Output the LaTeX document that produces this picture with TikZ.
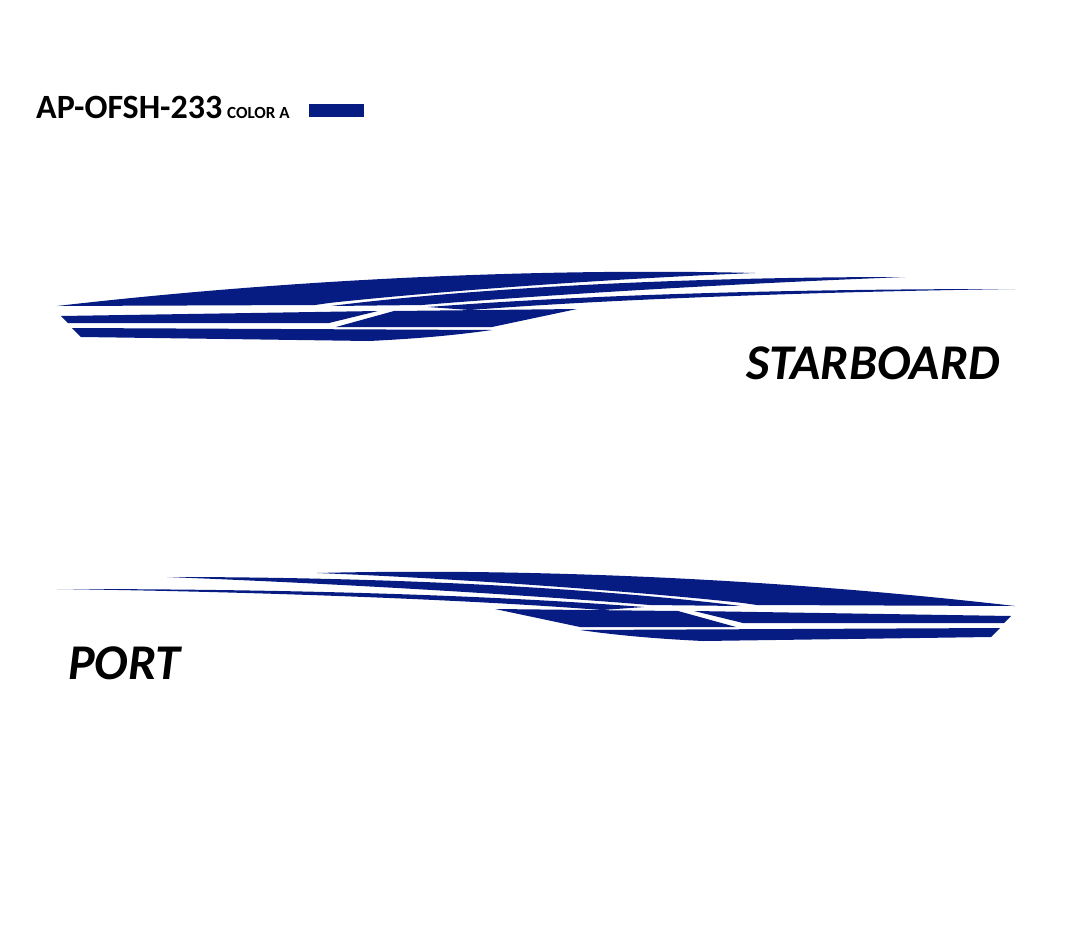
\documentclass[tikz,border=0pt]{standalone}
\usepackage{fontspec}
\setmainfont{Carlito}
\definecolor{stripe}{HTML}{061C82}
\begin{document}
\begin{tikzpicture}[x=1pt,y=-1pt]
\useasboundingbox (0,0) rectangle (1065,942);
\newcommand{\graphic}{%
 % top blade
 \fill[stripe] (57,306) .. controls (300,278) and (550,268) .. (755,273)
   .. controls (600,279) and (420,293) .. (329,303) -- (315,305) -- cycle;
 % blade 2
 \fill[stripe] (331,306) .. controls (450,291) and (650,277) .. (905,277)
   .. controls (700,285) and (520,297) .. (422,305) -- cycle;
 % blade 3
 \fill[stripe] (428,307) .. controls (600,294) and (800,289) .. (1015,289)
   .. controls (800,292) and (600,300) .. (470,310) -- cycle;
 % row 2
 \fill[stripe] (61,316) -- (378,311) -- (329,323) -- (68,323) -- cycle;
 \fill[stripe] (394,311) -- (577,309) -- (492,327) -- (336,327) -- cycle;
 % row 3
 \fill[stripe] (72,328) -- (492,330) .. controls (450,336) and (410,339) .. (369,341) -- (81,337) -- cycle;
}
\graphic
\begin{scope}[xshift=1072pt,yshift=-300pt,xscale=-1]
\graphic
\end{scope}
\node[anchor=base west,inner sep=0,font=\bfseries\fontsize{34}{34}\selectfont] (code) at (36,118) {AP-OFSH-233};
\node[anchor=base west,inner sep=0,font=\bfseries\fontsize{17}{17}\selectfont] (col) at (227,118) {COLOR A};
\fill[stripe] (309,104) rectangle (364,117);
\node[anchor=base east,inner sep=0,font=\bfseries\itshape\fontsize{50}{50}\selectfont] (sb) at (1000,379) {STARBOARD};
\node[anchor=base west,inner sep=0,font=\bfseries\itshape\fontsize{50}{50}\selectfont] (pt) at (68,679) {PORT};
\end{tikzpicture}
\end{document}
